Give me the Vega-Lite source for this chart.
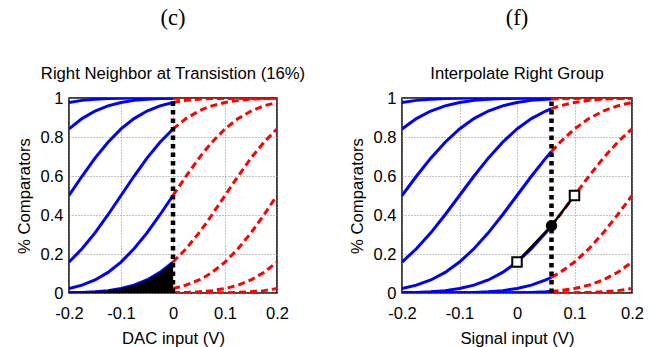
{
  "$schema": "https://vega.github.io/schema/vega-lite/v6.json",
  "background": "white",
  "padding": {"left": 15, "top": 6, "right": 8, "bottom": 2},
  "bounds": "flush",
  "spacing": 125,
  "config": {
    "view": {"stroke": "black", "strokeWidth": 1.5},
    "title": {"font": "Liberation Serif", "fontSize": 22.5, "fontWeight": "normal", "color": "black", "anchor": "middle", "subtitleFont": "Liberation Sans", "subtitleFontSize": 16.7, "subtitleColor": "black", "subtitlePadding": 37, "offset": 7},
    "axis": {"labelFont": "Liberation Sans", "labelFontSize": 16.5, "labelFontWeight": "normal", "labelColor": "black", "titleFont": "Liberation Sans", "titleFontSize": 16.7, "titleFontWeight": "normal", "titleColor": "black", "ticks": false, "domain": false, "gridDash": [1, 2], "gridColor": "#888", "gridWidth": 1, "labelFlush": false, "labelOverlap": false, "labelBound": false, "tickCount": 12},
    "axisX": {"labelPadding": 12, "titlePadding": 9},
    "axisY": {"labelPadding": 6, "titlePadding": 7}
  },
  "datasets": {
    "curves": [
      {"c": -0.4, "x": -0.2, "y": 0.9772}, {"c": -0.4, "x": -0.175, "y": 0.9878}, {"c": -0.4, "x": -0.15, "y": 0.9938}, {"c": -0.4, "x": -0.125, "y": 0.997}, {"c": -0.4, "x": -0.1, "y": 0.9987}, {"c": -0.4, "x": -0.075, "y": 0.9994}, {"c": -0.4, "x": -0.05, "y": 0.9998}, {"c": -0.4, "x": -0.025, "y": 0.9999}, {"c": -0.4, "x": 0, "y": 1}, {"c": -0.4, "x": 0.025, "y": 1}, {"c": -0.4, "x": 0.05, "y": 1}, {"c": -0.4, "x": 0.06, "y": 1}, {"c": -0.4, "x": 0.075, "y": 1}, {"c": -0.4, "x": 0.1, "y": 1}, {"c": -0.4, "x": 0.125, "y": 1}, {"c": -0.4, "x": 0.15, "y": 1}, {"c": -0.4, "x": 0.175, "y": 1}, {"c": -0.4, "x": 0.2, "y": 1},
      {"c": -0.3, "x": -0.2, "y": 0.8413}, {"c": -0.3, "x": -0.175, "y": 0.8944}, {"c": -0.3, "x": -0.15, "y": 0.9332}, {"c": -0.3, "x": -0.125, "y": 0.9599}, {"c": -0.3, "x": -0.1, "y": 0.9772}, {"c": -0.3, "x": -0.075, "y": 0.9878}, {"c": -0.3, "x": -0.05, "y": 0.9938}, {"c": -0.3, "x": -0.025, "y": 0.997}, {"c": -0.3, "x": 0, "y": 0.9987}, {"c": -0.3, "x": 0.025, "y": 0.9994}, {"c": -0.3, "x": 0.05, "y": 0.9998}, {"c": -0.3, "x": 0.06, "y": 0.9998}, {"c": -0.3, "x": 0.075, "y": 0.9999}, {"c": -0.3, "x": 0.1, "y": 1}, {"c": -0.3, "x": 0.125, "y": 1}, {"c": -0.3, "x": 0.15, "y": 1}, {"c": -0.3, "x": 0.175, "y": 1}, {"c": -0.3, "x": 0.2, "y": 1},
      {"c": -0.2, "x": -0.2, "y": 0.5}, {"c": -0.2, "x": -0.175, "y": 0.5987}, {"c": -0.2, "x": -0.15, "y": 0.6915}, {"c": -0.2, "x": -0.125, "y": 0.7734}, {"c": -0.2, "x": -0.1, "y": 0.8413}, {"c": -0.2, "x": -0.075, "y": 0.8944}, {"c": -0.2, "x": -0.05, "y": 0.9332}, {"c": -0.2, "x": -0.025, "y": 0.9599}, {"c": -0.2, "x": 0, "y": 0.9772}, {"c": -0.2, "x": 0.025, "y": 0.9878}, {"c": -0.2, "x": 0.05, "y": 0.9938}, {"c": -0.2, "x": 0.06, "y": 0.9953}, {"c": -0.2, "x": 0.075, "y": 0.997}, {"c": -0.2, "x": 0.1, "y": 0.9987}, {"c": -0.2, "x": 0.125, "y": 0.9994}, {"c": -0.2, "x": 0.15, "y": 0.9998}, {"c": -0.2, "x": 0.175, "y": 0.9999}, {"c": -0.2, "x": 0.2, "y": 1},
      {"c": -0.1, "x": -0.2, "y": 0.1587}, {"c": -0.1, "x": -0.175, "y": 0.2266}, {"c": -0.1, "x": -0.15, "y": 0.3085}, {"c": -0.1, "x": -0.125, "y": 0.4013}, {"c": -0.1, "x": -0.1, "y": 0.5}, {"c": -0.1, "x": -0.075, "y": 0.5987}, {"c": -0.1, "x": -0.05, "y": 0.6915}, {"c": -0.1, "x": -0.025, "y": 0.7734}, {"c": -0.1, "x": 0, "y": 0.8413}, {"c": -0.1, "x": 0.025, "y": 0.8944}, {"c": -0.1, "x": 0.05, "y": 0.9332}, {"c": -0.1, "x": 0.06, "y": 0.9452}, {"c": -0.1, "x": 0.075, "y": 0.9599}, {"c": -0.1, "x": 0.1, "y": 0.9772}, {"c": -0.1, "x": 0.125, "y": 0.9878}, {"c": -0.1, "x": 0.15, "y": 0.9938}, {"c": -0.1, "x": 0.175, "y": 0.997}, {"c": -0.1, "x": 0.2, "y": 0.9987},
      {"c": 0, "x": -0.2, "y": 0.0228}, {"c": 0, "x": -0.175, "y": 0.0401}, {"c": 0, "x": -0.15, "y": 0.0668}, {"c": 0, "x": -0.125, "y": 0.1056}, {"c": 0, "x": -0.1, "y": 0.1587}, {"c": 0, "x": -0.075, "y": 0.2266}, {"c": 0, "x": -0.05, "y": 0.3085}, {"c": 0, "x": -0.025, "y": 0.4013}, {"c": 0, "x": 0, "y": 0.5}, {"c": 0, "x": 0.025, "y": 0.5987}, {"c": 0, "x": 0.05, "y": 0.6915}, {"c": 0, "x": 0.06, "y": 0.7257}, {"c": 0, "x": 0.075, "y": 0.7734}, {"c": 0, "x": 0.1, "y": 0.8413}, {"c": 0, "x": 0.125, "y": 0.8944}, {"c": 0, "x": 0.15, "y": 0.9332}, {"c": 0, "x": 0.175, "y": 0.9599}, {"c": 0, "x": 0.2, "y": 0.9772},
      {"c": 0.1, "x": -0.2, "y": 0.0013}, {"c": 0.1, "x": -0.175, "y": 0.003}, {"c": 0.1, "x": -0.15, "y": 0.0062}, {"c": 0.1, "x": -0.125, "y": 0.0122}, {"c": 0.1, "x": -0.1, "y": 0.0228}, {"c": 0.1, "x": -0.075, "y": 0.0401}, {"c": 0.1, "x": -0.05, "y": 0.0668}, {"c": 0.1, "x": -0.025, "y": 0.1056}, {"c": 0.1, "x": 0, "y": 0.1587}, {"c": 0.1, "x": 0.025, "y": 0.2266}, {"c": 0.1, "x": 0.05, "y": 0.3085}, {"c": 0.1, "x": 0.06, "y": 0.3446}, {"c": 0.1, "x": 0.075, "y": 0.4013}, {"c": 0.1, "x": 0.1, "y": 0.5}, {"c": 0.1, "x": 0.125, "y": 0.5987}, {"c": 0.1, "x": 0.15, "y": 0.6915}, {"c": 0.1, "x": 0.175, "y": 0.7734}, {"c": 0.1, "x": 0.2, "y": 0.8413},
      {"c": 0.2, "x": -0.2, "y": 0}, {"c": 0.2, "x": -0.175, "y": 0.0001}, {"c": 0.2, "x": -0.15, "y": 0.0002}, {"c": 0.2, "x": -0.125, "y": 0.0006}, {"c": 0.2, "x": -0.1, "y": 0.0013}, {"c": 0.2, "x": -0.075, "y": 0.003}, {"c": 0.2, "x": -0.05, "y": 0.0062}, {"c": 0.2, "x": -0.025, "y": 0.0122}, {"c": 0.2, "x": 0, "y": 0.0228}, {"c": 0.2, "x": 0.025, "y": 0.0401}, {"c": 0.2, "x": 0.05, "y": 0.0668}, {"c": 0.2, "x": 0.06, "y": 0.0808}, {"c": 0.2, "x": 0.075, "y": 0.1056}, {"c": 0.2, "x": 0.1, "y": 0.1587}, {"c": 0.2, "x": 0.125, "y": 0.2266}, {"c": 0.2, "x": 0.15, "y": 0.3085}, {"c": 0.2, "x": 0.175, "y": 0.4013}, {"c": 0.2, "x": 0.2, "y": 0.5},
      {"c": 0.3, "x": -0.2, "y": 0}, {"c": 0.3, "x": -0.175, "y": 0}, {"c": 0.3, "x": -0.15, "y": 0}, {"c": 0.3, "x": -0.125, "y": 0}, {"c": 0.3, "x": -0.1, "y": 0}, {"c": 0.3, "x": -0.075, "y": 0.0001}, {"c": 0.3, "x": -0.05, "y": 0.0002}, {"c": 0.3, "x": -0.025, "y": 0.0006}, {"c": 0.3, "x": 0, "y": 0.0013}, {"c": 0.3, "x": 0.025, "y": 0.003}, {"c": 0.3, "x": 0.05, "y": 0.0062}, {"c": 0.3, "x": 0.06, "y": 0.0082}, {"c": 0.3, "x": 0.075, "y": 0.0122}, {"c": 0.3, "x": 0.1, "y": 0.0228}, {"c": 0.3, "x": 0.125, "y": 0.0401}, {"c": 0.3, "x": 0.15, "y": 0.0668}, {"c": 0.3, "x": 0.175, "y": 0.1056}, {"c": 0.3, "x": 0.2, "y": 0.1587},
      {"c": 0.4, "x": -0.2, "y": 0}, {"c": 0.4, "x": -0.175, "y": 0}, {"c": 0.4, "x": -0.15, "y": 0}, {"c": 0.4, "x": -0.125, "y": 0}, {"c": 0.4, "x": -0.1, "y": 0}, {"c": 0.4, "x": -0.075, "y": 0}, {"c": 0.4, "x": -0.05, "y": 0}, {"c": 0.4, "x": -0.025, "y": 0}, {"c": 0.4, "x": 0, "y": 0}, {"c": 0.4, "x": 0.025, "y": 0.0001}, {"c": 0.4, "x": 0.05, "y": 0.0002}, {"c": 0.4, "x": 0.06, "y": 0.0003}, {"c": 0.4, "x": 0.075, "y": 0.0006}, {"c": 0.4, "x": 0.1, "y": 0.0013}, {"c": 0.4, "x": 0.125, "y": 0.003}, {"c": 0.4, "x": 0.15, "y": 0.0062}, {"c": 0.4, "x": 0.175, "y": 0.0122}, {"c": 0.4, "x": 0.2, "y": 0.0228}
    ],
    "interp": [
      {"x": 0, "y": 0.1587, "kind": "square"},
      {"x": 0.06, "y": 0.3446, "kind": "circle"},
      {"x": 0.1, "y": 0.5, "kind": "square"}
    ]
  },
  "hconcat": [
    {
      "width": 208,
      "height": 195,
      "title": {"text": "(c)", "subtitle": "Right Neighbor at Transistion (16%)"},
      "layer": [
        {
          "data": {"name": "curves"},
          "transform": [{"filter": "datum.x <= 0"}],
          "mark": {"type": "line", "color": "#0000ff", "strokeWidth": 3, "clip": true},
          "encoding": {
            "x": {"field": "x", "type": "quantitative", "scale": {"domain": [-0.2, 0.2], "nice": false}, "axis": {"title": "DAC input (V)", "values": [-0.2, -0.1, 0, 0.1, 0.2], "tickCount": 12, "labelOverlap": false, "labelExpr": "datum.value < -0.0001 ? '-' + format(-datum.value, '.1f') : (abs(datum.value) < 0.0001 ? '0' : format(datum.value, '.1f'))"}},
            "y": {"field": "y", "type": "quantitative", "scale": {"domain": [0, 1], "nice": false}, "axis": {"title": "% Comparators", "values": [0, 0.2, 0.4, 0.6, 0.8, 1], "tickCount": 12, "labelOverlap": false, "format": "~g"}},
            "detail": {"field": "c"}
          }
        },
        {
          "data": {"name": "curves"},
          "transform": [{"filter": "datum.x >= 0"}],
          "mark": {"type": "line", "color": "#ff0000", "strokeWidth": 3, "strokeDash": [7, 4], "clip": true},
          "encoding": {
            "x": {"field": "x", "type": "quantitative"},
            "y": {"field": "y", "type": "quantitative"},
            "detail": {"field": "c"}
          }
        },
        {
          "data": {"name": "curves"},
          "transform": [{"filter": "datum.c == 0.1 && datum.x <= 0"}],
          "mark": {"type": "area", "color": "black", "opacity": 1},
          "encoding": {
            "x": {"field": "x", "type": "quantitative"},
            "y": {"field": "y", "type": "quantitative"}
          }
        },
        {
          "data": {"values": [{"x": 0}]},
          "mark": {"type": "rule", "color": "black", "strokeWidth": 4.5, "strokeDash": [4.5, 4]},
          "encoding": {
            "x": {"field": "x", "type": "quantitative"},
            "y": {"datum": 0},
            "y2": {"datum": 1}
          }
        }
      ]
    },
    {
      "width": 230,
      "height": 195,
      "title": {"text": "(f)", "subtitle": "Interpolate Right Group"},
      "layer": [
        {
          "data": {"name": "curves"},
          "transform": [{"filter": "datum.x <= 0.06"}],
          "mark": {"type": "line", "color": "#0000ff", "strokeWidth": 3, "clip": true},
          "encoding": {
            "x": {"field": "x", "type": "quantitative", "scale": {"domain": [-0.2, 0.2], "nice": false}, "axis": {"title": "Signal input (V)", "values": [-0.2, -0.1, 0, 0.1, 0.2], "tickCount": 12, "labelOverlap": false, "labelExpr": "datum.value < -0.0001 ? '-' + format(-datum.value, '.1f') : (abs(datum.value) < 0.0001 ? '0' : format(datum.value, '.1f'))"}},
            "y": {"field": "y", "type": "quantitative", "scale": {"domain": [0, 1], "nice": false}, "axis": {"title": "% Comparators", "values": [0, 0.2, 0.4, 0.6, 0.8, 1], "tickCount": 12, "labelOverlap": false, "format": "~g"}},
            "detail": {"field": "c"}
          }
        },
        {
          "data": {"name": "curves"},
          "transform": [{"filter": "datum.x >= 0.06"}],
          "mark": {"type": "line", "color": "#ff0000", "strokeWidth": 3, "strokeDash": [7, 4], "clip": true},
          "encoding": {
            "x": {"field": "x", "type": "quantitative"},
            "y": {"field": "y", "type": "quantitative"},
            "detail": {"field": "c"}
          }
        },
        {
          "data": {"values": [{"x": 0.06}]},
          "mark": {"type": "rule", "color": "black", "strokeWidth": 4.5, "strokeDash": [4.5, 4]},
          "encoding": {
            "x": {"field": "x", "type": "quantitative"},
            "y": {"datum": 0},
            "y2": {"datum": 1}
          }
        },
        {
          "data": {"name": "interp"},
          "mark": {"type": "line", "color": "black", "strokeWidth": 2.5},
          "encoding": {
            "x": {"field": "x", "type": "quantitative"},
            "y": {"field": "y", "type": "quantitative"}
          }
        },
        {
          "data": {"name": "interp"},
          "transform": [{"filter": "datum.kind == 'square'"}],
          "mark": {"type": "point", "shape": "square", "filled": true, "fill": "white", "stroke": "black", "strokeWidth": 2, "size": 90, "opacity": 1},
          "encoding": {
            "x": {"field": "x", "type": "quantitative"},
            "y": {"field": "y", "type": "quantitative"}
          }
        },
        {
          "data": {"name": "interp"},
          "transform": [{"filter": "datum.kind == 'circle'"}],
          "mark": {"type": "point", "shape": "circle", "filled": true, "color": "black", "size": 130, "opacity": 1},
          "encoding": {
            "x": {"field": "x", "type": "quantitative"},
            "y": {"field": "y", "type": "quantitative"}
          }
        }
      ]
    }
  ]
}
